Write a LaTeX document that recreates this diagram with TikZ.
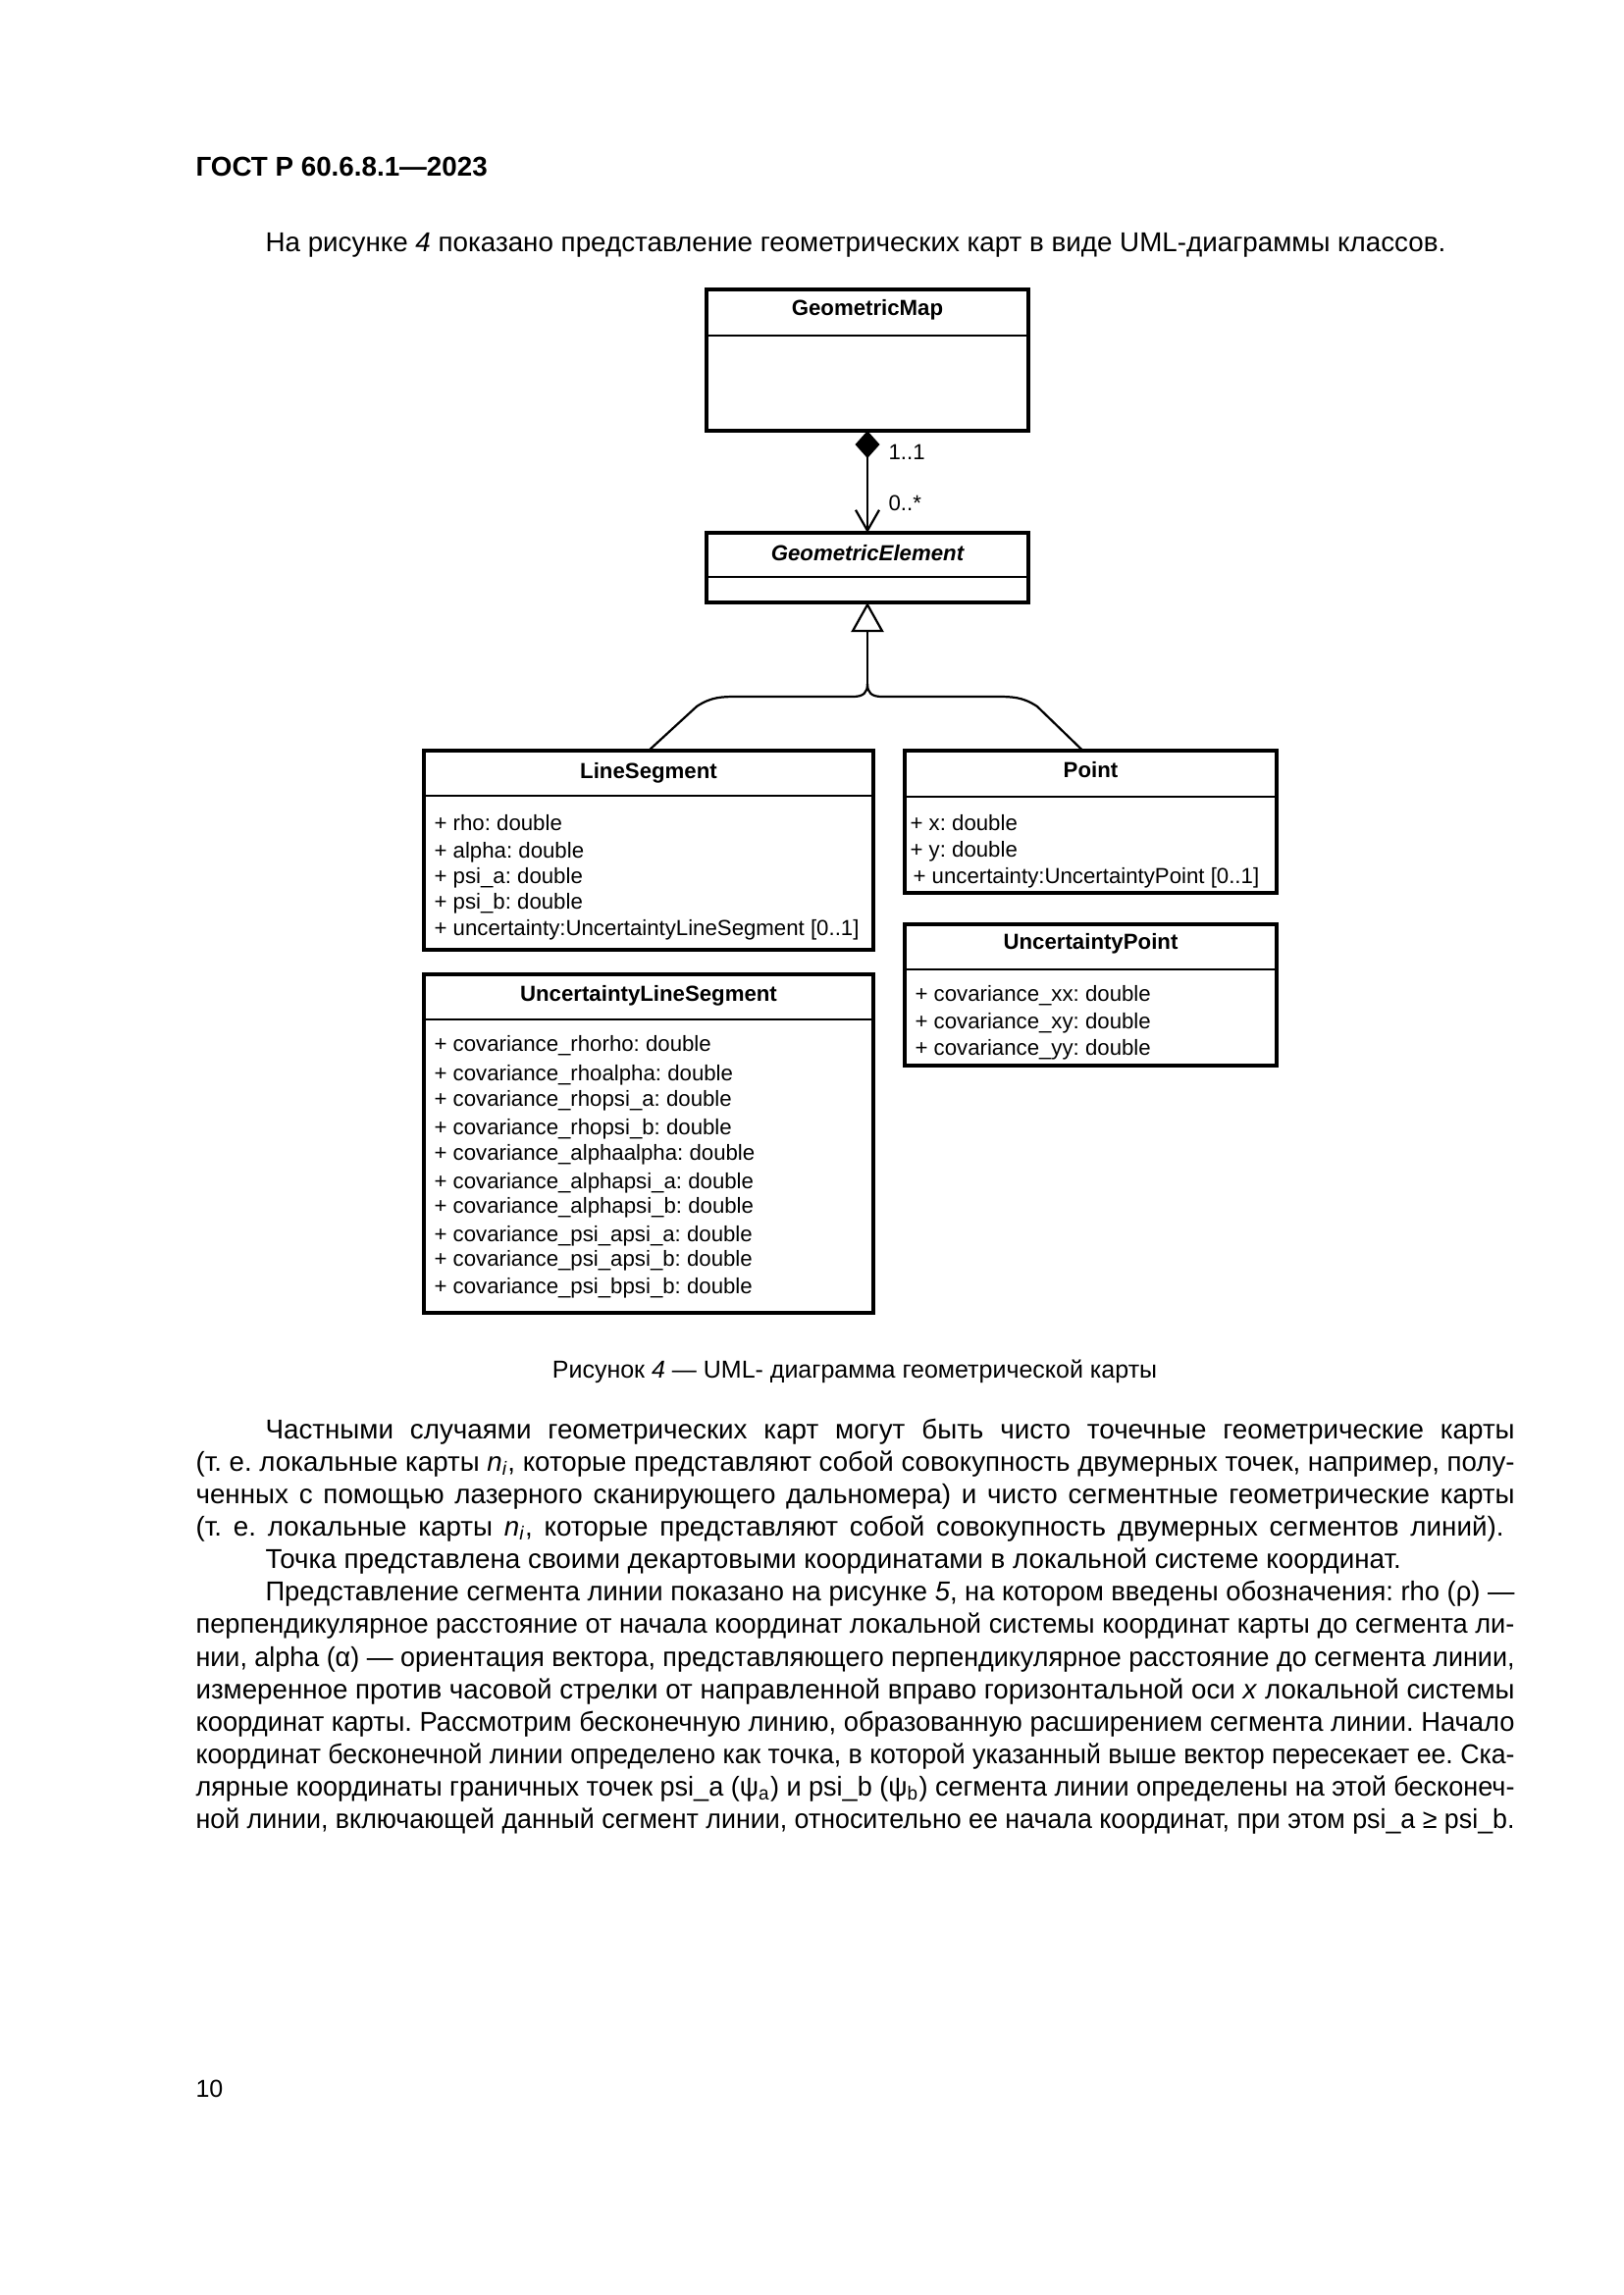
\documentclass[tikz,border=0pt]{standalone}
\usepackage{fontspec}
\usepackage{graphicx}
\setmainfont{Liberation Sans}
\usetikzlibrary{arrows.meta}
\newsavebox{\jlinebox}
\newcommand{\jline}[2]{\sbox{\jlinebox}{#2}\ifdim\wd\jlinebox>#1\relax\resizebox{#1}{\height}{\usebox{\jlinebox}}\else\makebox[#1][s]{#2}\fi}
\frenchspacing
\begin{document}
\begin{tikzpicture}[x=0.36pt, y=-0.36pt,
  classbox/.style={draw, line width=1.2pt, rectangle, inner sep=0pt, outer sep=0pt},
  hdr/.style={font=\fontsize{8}{9.6}\selectfont\bfseries, anchor=base, inner sep=0pt},
  attr/.style={font=\fontsize{8}{9.6}\selectfont, anchor=base west, inner sep=0pt},
  divider/.style={line width=0.9pt},
  conn/.style={line width=0.8pt},
  body/.style={font=\fontsize{10}{12}\selectfont\frenchspacing, anchor=base west, inner sep=0pt},
  mult/.style={font=\fontsize{8}{9.6}\selectfont, anchor=base west, inner sep=0pt}]
\useasboundingbox (0,0) rectangle (1654,2339);

% ---------- page texts ----------
\node[body, font=\fontsize{10}{12}\selectfont\bfseries] (pagehdr) at (199,179) {ГОСТ Р 60.6.8.1—2023};
\node[body] (intro) at (270,256) {На рисунке \textit{4} показано представление геометрических карт в виде UML-диаграммы классов.};

% ---------- classes ----------
\node[classbox, minimum width={328*0.36pt}, minimum height={144*0.36pt}] (gm) at (884,367) {};
\draw[divider] (gm.west |- 0,342) -- (gm.east |- 0,342);
\node[hdr] (gmT) at (884,321) {GeometricMap};

\node[classbox, minimum width={328*0.36pt}, minimum height={71*0.36pt}] (ge) at (884,578.5) {};
\draw[divider] (ge.west |- 0,588) -- (ge.east |- 0,588);
\node[hdr, font=\fontsize{8}{9.6}\selectfont\bfseries\itshape] (geT) at (884,571) {GeometricElement};

\node[classbox, minimum width={458*0.36pt}, minimum height={203*0.36pt}] (ls) at (661,866.5) {};
\draw[divider] (ls.west |- 0,811) -- (ls.east |- 0,811);
\node[hdr] (lsT) at (661,793) {LineSegment};
\node[attr] (ls1) at (442,846) {+ rho: double};
\node[attr] (ls2) at (442,874) {+ alpha: double};
\node[attr] (ls3) at (442,900) {+ psi\_a: double};
\node[attr] (ls4) at (442,926) {+ psi\_b: double};
\node[attr] (ls5) at (442,953) {+ uncertainty:UncertaintyLineSegment [0..1]};

\node[classbox, minimum width={379*0.36pt}, minimum height={145*0.36pt}] (pt) at (1111.5,837.5) {};
\draw[divider] (pt.west |- 0,812) -- (pt.east |- 0,812);
\node[hdr] (ptT) at (1111.5,792) {Point};
\node[attr] (pt1) at (927,846) {+ x: double};
\node[attr] (pt2) at (927,873) {+ y: double};
\node[attr] (pt3) at (930,900) {+ uncertainty:UncertaintyPoint [0..1]};

\node[classbox, minimum width={379*0.36pt}, minimum height={144*0.36pt}] (up) at (1111.5,1014) {};
\draw[divider] (up.west |- 0,988) -- (up.east |- 0,988);
\node[hdr] (upT) at (1111.5,967) {UncertaintyPoint};
\node[attr] (up1) at (932,1020) {+ covariance\_xx: double};
\node[attr] (up2) at (932,1048) {+ covariance\_xy: double};
\node[attr] (up3) at (932,1075) {+ covariance\_yy: double};

\node[classbox, minimum width={458*0.36pt}, minimum height={345*0.36pt}] (uls) at (661,1165.5) {};
\draw[divider] (uls.west |- 0,1039) -- (uls.east |- 0,1039);
\node[hdr] (ulsT) at (661,1020) {UncertaintyLineSegment};
\node[attr] (u1) at (442,1071) {+ covariance\_rhorho: double};
\node[attr] (u2) at (442,1101) {+ covariance\_rhoalpha: double};
\node[attr] (u3) at (442,1127) {+ covariance\_rhopsi\_a: double};
\node[attr] (u4) at (442,1156) {+ covariance\_rhopsi\_b: double};
\node[attr] (u5) at (442,1182) {+ covariance\_alphaalpha: double};
\node[attr] (u6) at (442,1211) {+ covariance\_alphapsi\_a: double};
\node[attr] (u7) at (442,1236) {+ covariance\_alphapsi\_b: double};
\node[attr] (u8) at (442,1265) {+ covariance\_psi\_apsi\_a: double};
\node[attr] (u9) at (442,1290) {+ covariance\_psi\_apsi\_b: double};
\node[attr] (u10) at (442,1318) {+ covariance\_psi\_bpsi\_b: double};

% ---------- connectors ----------
\draw[conn, {Diamond[length=10.08pt, width=9pt]}-{Straight Barb[length=7.56pt, width=8.64pt, line width=0.8pt]}] (gm.south) -- (ge.north);
\node[mult] (m11) at (905,468) {1..1};
\node[mult] (m0s) at (905,520) {0..*};

\coordinate (jn) at (884,697);
\draw[conn, -{Triangle[open, fill=white, length=10.8pt, width=11.9pt, line width=0.8pt]}] (jn) -- (ge.south);
\draw[conn] (ls.north) -- (710,720) .. controls (725,710) and (736,710) .. (752,710) -- (869,710) .. controls (880,710) and (884,706) .. (jn);
\draw[conn] ([xshift={-8*0.36pt}]pt.north) -- (1057,720) .. controls (1042,710) and (1031,710) .. (1015,710) -- (899,710) .. controls (888,710) and (884,706) .. (jn);

% ---------- caption ----------
\node[body, font=\fontsize{9}{11}\selectfont, anchor=base] (cap) at (871,1404) {Рисунок \textit{4} — UML- диаграмма геометрической карты};

% ---------- body text ----------
\node[body] (l1) at (270,1466) {\jline{458.28pt}{Частными случаями геометрических карт могут быть чисто точечные геометрические карты}};
\node[body] (l2) at (199,1499) {\jline{483.84pt}{(т. е. локальные карты {\itshape n}\textsubscript{\itshape i}, которые представляют собой совокупность двумерных точек, например, полу-}};
\node[body] (l3) at (199,1532) {\jline{483.84pt}{ченных с помощью лазерного сканирующего дальномера) и чисто сегментные геометрические карты}};
\node[body] (l4) at (199,1565) {\jline{479.9pt}{(т. е. локальные карты {\itshape n}\textsubscript{\itshape i}, которые представляют собой совокупность двумерных сегментов линий).}};
\node[body] (l5) at (270,1598) {Точка представлена своими декартовыми координатами в локальной системе координат.};
\node[body] (l6) at (270,1631) {\jline{458.28pt}{Представление сегмента линии показано на рисунке \textit{5}, на котором введены обозначения: rho (ρ) —}};
\node[body] (l7) at (199,1664) {\jline{483.84pt}{перпендикулярное расстояние от начала координат локальной системы координат карты до сегмента ли-}};
\node[body] (l8) at (199,1698) {\jline{483.84pt}{нии, alpha (α) — ориентация вектора, представляющего перпендикулярное расстояние до сегмента линии,}};
\node[body] (l9) at (199,1731) {\jline{483.84pt}{измеренное против часовой стрелки от направленной вправо горизонтальной оси \textit{x} локальной системы}};
\node[body] (l10) at (199,1764) {\jline{483.84pt}{координат карты. Рассмотрим бесконечную линию, образованную расширением сегмента линии. Начало}};
\node[body] (l11) at (199,1797) {\jline{483.84pt}{координат бесконечной линии определено как точка, в которой указанный выше вектор пересекает ее. Ска-}};
\node[body] (l12) at (199,1830) {\jline{483.84pt}{лярные координаты граничных точек psi\_a (ψ\textsubscript{a}) и psi\_b (ψ\textsubscript{b}) сегмента линии определены на этой бесконеч-}};
\node[body] (l13) at (199,1863) {\jline{483.84pt}{ной линии, включающей данный сегмент линии, относительно ее начала координат, при этом psi\_a ≥ psi\_b.}};

\node[body, font=\fontsize{9}{11}\selectfont] (pgno) at (199,2137) {10};
\end{tikzpicture}
\end{document}
